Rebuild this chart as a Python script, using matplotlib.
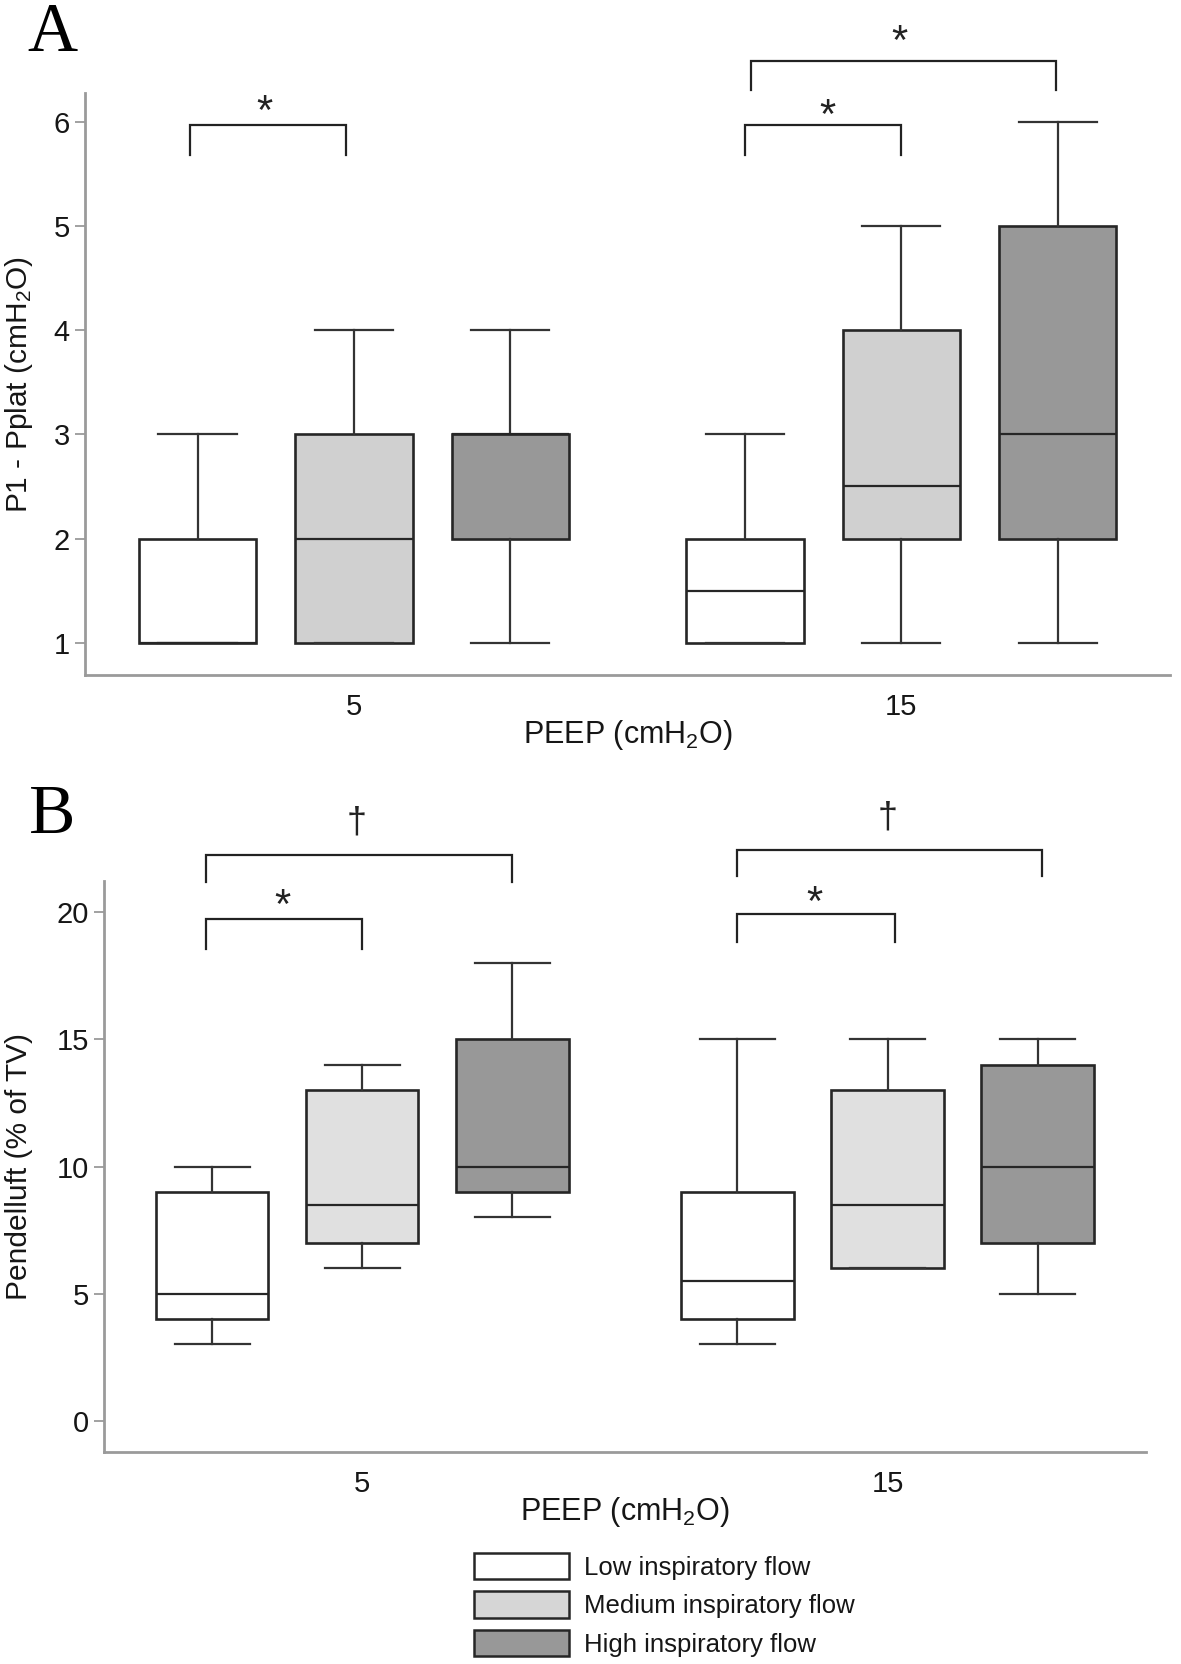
import matplotlib
matplotlib.use("Agg")
import matplotlib.pyplot as plt
from matplotlib.patches import Patch

plt.rcParams['font.family'] = ['Liberation Sans', 'DejaVu Sans']
plt.rcParams['mathtext.fontset'] = 'custom'
plt.rcParams['mathtext.rm'] = 'Liberation Sans'
plt.rcParams['mathtext.it'] = 'Liberation Sans'

# ---------------- data ----------------
peep_labels = ['5', '15']
flow_labels = ['Low inspiratory flow', 'Medium inspiratory flow', 'High inspiratory flow']
positions = [1, 2, 3, 4.5, 5.5, 6.5]

# Panel A: P1 - Pplat (cmH2O); order: low5, med5, high5, low15, med15, high15
A_whislo = [1, 1, 1, 1, 1, 1]
A_q1 = [1, 1, 2, 1, 2, 2]
A_med = [1, 2, 3, 1.5, 2.5, 3]
A_q3 = [2, 3, 3, 2, 4, 5]
A_whishi = [3, 4, 4, 3, 5, 6]

# Panel B: Pendelluft (% of TV)
B_whislo = [3, 6, 8, 3, 6, 5]
B_q1 = [4, 7, 9, 4, 6, 7]
B_med = [5, 8.5, 10, 5.5, 8.5, 10]
B_q3 = [9, 13, 15, 9, 13, 14]
B_whishi = [10, 14, 18, 15, 15, 15]

# significance brackets: (x1, x2, y_top, y_leg, symbol, x_text, y_text_baseline)
A_brackets = [(0.95, 1.95, 5.98, 5.69, '*', 1.43, 5.99),
              (4.50, 5.50, 5.98, 5.69, '*', 5.03, 5.95),
              (4.54, 6.49, 6.59, 6.31, '*', 5.49, 6.66)]
B_brackets = [(0.96, 2.0, 19.75, 18.54, '*', 1.47, 19.76),
              (0.96, 3.0, 22.25, 21.21, '\u2020', 1.96, 23.15),
              (4.50, 5.55, 19.92, 18.83, '*', 5.01, 19.89),
              (4.50, 6.53, 22.46, 21.42, '\u2020', 5.50, 23.35)]

A_fill = ['white', '#d0d0d0', '#989898']
B_fill = ['white', '#e0e0e0', '#989898']
legend_fill = ['white', '#d6d6d6', '#989898']

EDGE = '#262626'
SPINE = '#9a9a9a'
TXT = '#161616'

fig = plt.figure(figsize=(11.81, 16.64), dpi=100)


def panel(rect, whislo, q1, med, q3, whishi, fills, ylim, yticks, ylabel,
          brackets, ylabel_x, xlabel_y, group_ticks):
    ax = fig.add_axes(rect)
    stats = []
    for i in range(len(positions)):
        stats.append(dict(whislo=whislo[i], q1=q1[i], med=med[i],
                          q3=q3[i], whishi=whishi[i], fliers=[]))
    bp = ax.bxp(stats, positions=positions, widths=0.75, capwidths=0.5,
                patch_artist=True, showfliers=False,
                boxprops=dict(edgecolor=EDGE, linewidth=1.9),
                whiskerprops=dict(color='#333333', linewidth=1.6),
                capprops=dict(color='#333333', linewidth=1.6),
                medianprops=dict(color=EDGE, linewidth=1.6))
    for i, b in enumerate(bp['boxes']):
        b.set_facecolor(fills[i % 3])
    ax.set_xlim(0.28, 7.22)
    ax.set_ylim(*ylim)
    ax.set_yticks(yticks)
    ax.set_xticks(group_ticks)
    ax.set_xticklabels(peep_labels)
    for s in ['top', 'right']:
        ax.spines[s].set_visible(False)
    for s in ['left', 'bottom']:
        ax.spines[s].set_color(SPINE)
        ax.spines[s].set_linewidth(2.0)
    ax.tick_params(axis='y', length=7, width=1.3, color=SPINE, pad=4,
                   labelsize=21, labelcolor=TXT)
    ax.tick_params(axis='x', length=0, pad=13, labelsize=21, labelcolor=TXT)
    ax.set_ylabel(ylabel, fontsize=21.5, color=TXT, va='center')
    ax.yaxis.set_label_coords(ylabel_x, 0.5)
    ax.set_xlabel(r'PEEP (cmH$_2$O)', fontsize=22, color=TXT, va='center')
    ax.xaxis.set_label_coords(0.5, xlabel_y)
    for (x1, x2, yt, yl, sym, xt, ytx) in brackets:
        ax.plot([x1, x1, x2, x2], [yl, yt, yt, yl], color='#222222',
                linewidth=1.6, clip_on=False, solid_joinstyle='miter')
        ax.text(xt, ytx, sym, ha='center', va='baseline',
                fontsize=30 if sym == '*' else 26,
                color='#222222', clip_on=False)
    return ax


axA = panel([0.0719, 0.5945, 0.919, 0.3494], A_whislo, A_q1, A_med, A_q3, A_whishi,
            A_fill, (0.69, 6.28), [1, 2, 3, 4, 5, 6],
            r'P1 - Pplat (cmH$_2$O)', A_brackets, -0.061, -0.103, [2, 5.5])
axB = panel([0.0881, 0.1277, 0.882, 0.3431], B_whislo, B_q1, B_med, B_q3, B_whishi,
            B_fill, (-1.21, 21.25), [0, 5, 10, 15, 20],
            'Pendelluft (% of TV)', B_brackets, -0.0816, -0.106, [2, 5.5])

fig.text(27 / 1181, 1 - 51 / 1664, 'A', fontsize=50, family='Liberation Serif',
         va='baseline', ha='left')
fig.text(29 / 1181, 1 - 833 / 1664, 'B', fontsize=50, family='Liberation Serif',
         va='baseline', ha='left')

handles = [Patch(facecolor=c, edgecolor=EDGE, linewidth=1.8) for c in legend_fill]
fig.legend(handles, flow_labels, loc='upper left',
           bbox_to_anchor=(474 / 1181, 1 - 1553 / 1664), frameon=False,
           fontsize=18.5, handlelength=3.7, handleheight=1.2,
           handletextpad=0.6, labelspacing=0.45, borderpad=0, borderaxespad=0,
           labelcolor=TXT)

fig.savefig('out.png', dpi=100)
